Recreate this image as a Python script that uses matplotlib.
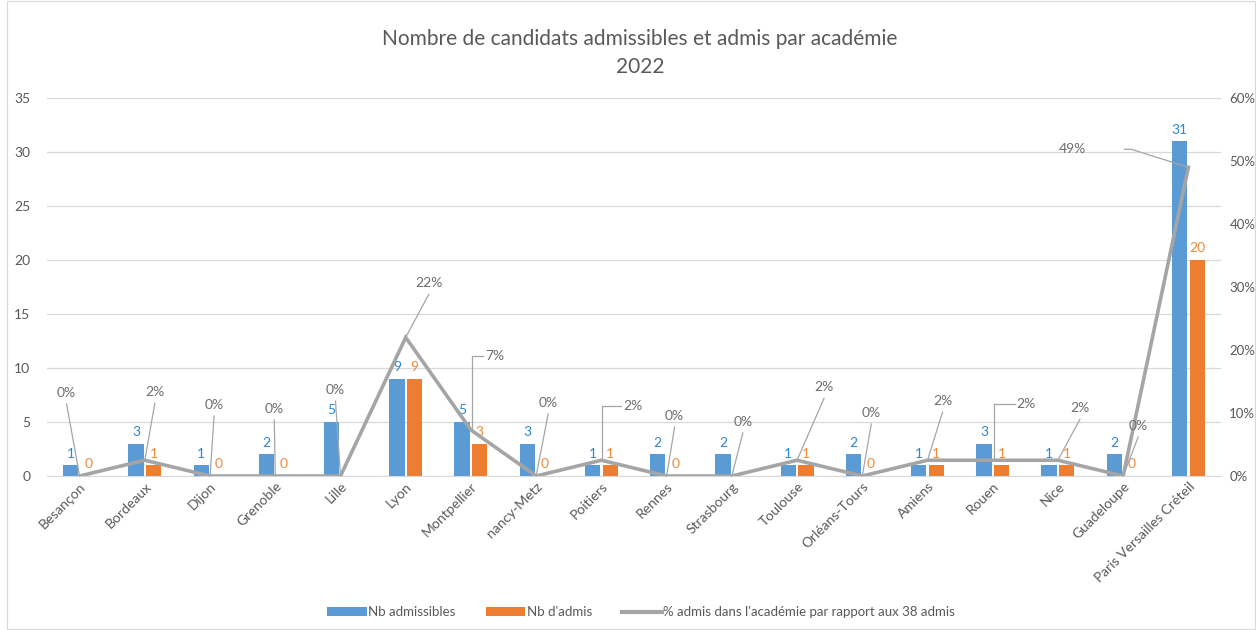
import matplotlib
matplotlib.use("Agg")
import matplotlib.pyplot as plt
import numpy as np
from matplotlib.lines import Line2D
from matplotlib.patches import Patch, Rectangle

# ---------------- data ----------------
academies = ["Besançon", "Bordeaux", "Dijon", "Grenoble", "Lille", "Lyon", "Montpellier",
             "nancy-Metz", "Poitiers", "Rennes", "Strasbourg", "Toulouse", "Orléans-Tours",
             "Amiens", "Rouen", "Nice", "Guadeloupe", "Paris Versailles Créteil"]
nb_admissibles = [1, 3, 1, 2, 5, 9, 5, 3, 1, 2, 2, 1, 2, 1, 3, 1, 2, 31]
nb_admis = [0, 1, 0, 0, None, 9, 3, 0, 1, 0, None, 1, 0, 1, 1, 1, 0, 20]
pct_admis = [0, 2.5, 0, 0, 0, 22, 7.3, 0, 2.5, 0, 0, 2.5, 0, 2.5, 2.5, 2.5, 0, 49]
pct_labels = ["0%", "2%", "0%", "0%", "0%", "22%", "7%", "0%", "2%", "0%", "0%", "2%",
              "0%", "2%", "2%", "2%", "0%", "49%"]
left_ticks = [0, 5, 10, 15, 20, 25, 30, 35]
right_ticks = [0, 10, 20, 30, 40, 50, 60]
title = "Nombre de candidats admissibles et admis par académie\n2022"
series_names = ["Nb admissibles", "Nb d'admis",
                "% admis dans l'académie par rapport aux 38 admis"]

# ---------------- style ----------------
BLUE = "#5B9BD5"
ORANGE = "#ED7D31"
GREY = "#A5A5A5"
TXT = "#595959"
FONT = ["Lato", "DejaVu Sans"]
plt.rcParams["font.family"] = FONT

W, H = 1256, 630
fig = plt.figure(figsize=(W / 100, H / 100), dpi=100)
fig.patches.append(Rectangle((7 / W, 1 / H), 1 - 8 / W, 1 - 2 / H, transform=fig.transFigure,
                             fill=False, edgecolor="#D9D9D9", lw=0.8))

ax = fig.add_axes([47 / W, 1 - 476 / H, (1221 - 47) / W, (476 - 98) / H])
x = np.arange(len(academies))
bw = 0.235
gap = 0.035
admis_vals = [np.nan if v is None else v for v in nb_admis]
ax.bar(x - bw / 2 - gap / 2, nb_admissibles, bw, color=BLUE, zorder=2)
ax.bar(x + bw / 2 + gap / 2, admis_vals, bw, color=ORANGE, zorder=2)
ax.set_xlim(-0.5, len(academies) - 0.5)
ax.set_ylim(0, 35)
ax.set_yticks(left_ticks)
ax.grid(axis="y", color="#D9D9D9", lw=0.9, zorder=0)
ax.set_axisbelow(True)
for s in ["top", "right", "left"]:
    ax.spines[s].set_visible(False)
ax.spines["bottom"].set_color("#D9D9D9")
ax.tick_params(axis="y", length=0, labelsize=10, colors=TXT, pad=12)
ax.tick_params(axis="x", length=0, labelsize=10, colors=TXT, pad=3)
ax.set_xticks(x)
ax.set_xticklabels(academies, rotation=45, ha="right", rotation_mode="anchor")

for xi, v in zip(x, nb_admissibles):
    ax.annotate(str(v), (xi - bw / 2 - gap / 2, v), xytext=(0, 4), textcoords="offset points",
                ha="center", va="bottom", color="#2E86D1", fontsize=10)
for xi, v in zip(x, nb_admis):
    if v is None:
        continue
    ax.annotate(str(v), (xi + bw / 2 + gap / 2, v), xytext=(0, 4), textcoords="offset points",
                ha="center", va="bottom", color="#F08A3C", fontsize=10)

ax2 = ax.twinx()
ax2.plot(x, pct_admis, color=GREY, lw=2.6, zorder=3, solid_joinstyle="miter")
ax2.set_ylim(0, 60)
ax2.set_yticks(right_ticks)
ax2.set_yticklabels([f"{t}%" for t in right_ticks])
ax2.tick_params(axis="y", length=0, labelsize=9.5, colors=TXT, pad=6)
for s in ["top", "right", "left", "bottom"]:
    ax2.spines[s].set_visible(False)

# percent labels: (text dx, text dy, leader kind) in pixels relative to the point
label_layout = [(-13, 83, "s"), (10, 68, "s"), (4, 71, "s"), (-1, 67, "s"), (-5, 86, "s"),
                (23, 54, "s"), (12, 74, "e"), (12, 73, "s"), (20, 54, "e"), (8, 60, "s"),
                (11, 54, "s"), (27, 73, "s"), (9, 63, "s"), (15, 59, "s"), (22, 56, "e"),
                (22, 52, "s"), (15, 50, "s"), (-116, 18, "p")]
fig.canvas.draw()
for xi, v, lab, (dx, dy, kind) in zip(x, pct_admis, pct_labels, label_layout):
    px, py = ax2.transData.transform((xi, v))
    tx, ty = px + dx, py + dy
    if kind == "s":
        fig.text(tx / W, ty / H, lab, ha="center", va="center", color="#6E6E6E", fontsize=10)
        fig.add_artist(Line2D([tx, px], [ty - 11, py], transform=None, color=GREY, lw=0.9))
    elif kind == "e":
        fig.text((tx + 2) / W, ty / H, lab, ha="left", va="center", color="#6E6E6E", fontsize=10)
        fig.add_artist(Line2D([tx, px + 1, px + 1], [ty, ty, py], transform=None,
                              color=GREY, lw=0.9))
    else:
        fig.text(tx / W, ty / H, lab, ha="center", va="center", color="#6E6E6E", fontsize=10)
        fig.add_artist(Line2D([tx + 52, tx + 59, px], [ty, ty, py], transform=None,
                              color=GREY, lw=0.9))

fig.text(640 / W, 1 - 53 / H, title, ha="center", va="center", color=TXT, fontsize=15,
         linespacing=1.45)

handles = [Patch(facecolor=BLUE), Patch(facecolor=ORANGE),
           Line2D([0], [0], color=GREY, lw=3)]
fig.legend(handles, series_names, loc="center", bbox_to_anchor=(641 / W, 1 - 612 / H), ncol=3,
           frameon=False, fontsize=9.5, labelcolor=TXT, handlelength=3.0, handleheight=0.6,
           handletextpad=0.1, columnspacing=2.3)

fig.savefig("out.png", dpi=100)
